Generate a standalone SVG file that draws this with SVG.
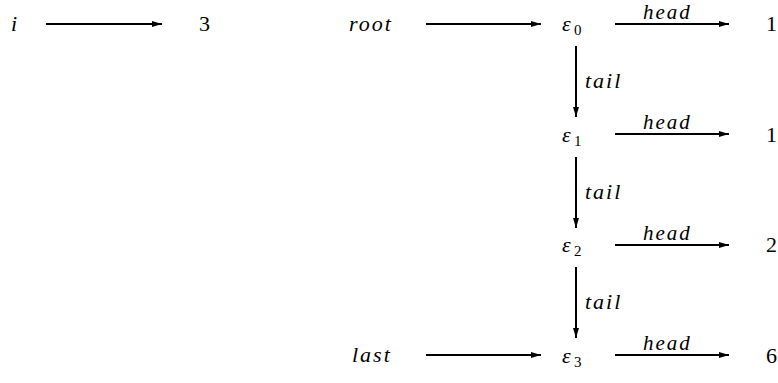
<svg xmlns="http://www.w3.org/2000/svg" width="778" height="383" viewBox="0 0 778 383" font-family="Liberation Serif, Times New Roman, DejaVu Serif, serif">
  <style>
    .v { font-style: italic; font-size: 22px; letter-spacing: 2px; }
    .l { font-style: italic; font-size: 21px; letter-spacing: 2px; }
    .n { font-size: 22px; }
    .s { font-size: 15px; }
    .e { stroke: #000; stroke-width: 2; fill: none; marker-end: url(#ah); }
  </style>
  <defs>
    <marker id="ah" viewBox="0 0 10 6" refX="10" refY="3" markerWidth="10" markerHeight="6" markerUnits="userSpaceOnUse" orient="auto">
      <path d="M0,0 L10,3 L0,6 Z" fill="#000"/>
    </marker>
  </defs>

  <!-- variables -->
  <g id="var-i"><text class="v" x="11" y="31">i</text></g>
  <g id="val-3"><text class="n" x="199" y="31">3</text></g>
  <g id="var-root"><text class="v" x="349" y="31">root</text></g>
  <g id="var-last"><text class="v" x="352" y="362">last</text></g>

  <!-- list cells -->
  <g id="eps0"><text class="v" x="562" y="31">ε</text><text class="s" x="574" y="35">0</text></g>
  <g id="eps1"><text class="v" x="562" y="142">ε</text><text class="s" x="574" y="146">1</text></g>
  <g id="eps2"><text class="v" x="562" y="252">ε</text><text class="s" x="574" y="256">2</text></g>
  <g id="eps3"><text class="v" x="562" y="363">ε</text><text class="s" x="574" y="367">3</text></g>

  <!-- head values -->
  <g id="val-1a"><text class="n" x="766" y="31">1</text></g>
  <g id="val-1b"><text class="n" x="766" y="142">1</text></g>
  <g id="val-2"><text class="n" x="766" y="252">2</text></g>
  <g id="val-6"><text class="n" x="766" y="363">6</text></g>

  <!-- connectors -->
  <g id="connectors">
    <line class="e" x1="46" y1="24" x2="162" y2="24"/>
    <line class="e" x1="426" y1="24" x2="541" y2="24"/>
    <line class="e" x1="426" y1="355" x2="541" y2="355"/>

    <line class="e" x1="615" y1="24" x2="729" y2="24"/>
    <line class="e" x1="615" y1="134" x2="729" y2="134"/>
    <line class="e" x1="615" y1="245" x2="729" y2="245"/>
    <line class="e" x1="615" y1="355" x2="729" y2="355"/>
    <text class="l" x="643" y="19">head</text>
    <text class="l" x="643" y="129">head</text>
    <text class="l" x="643" y="240">head</text>
    <text class="l" x="643" y="350">head</text>

    <line class="e" x1="576" y1="46" x2="576" y2="117"/>
    <line class="e" x1="576" y1="157" x2="576" y2="228"/>
    <line class="e" x1="576" y1="267" x2="576" y2="338"/>
    <text class="v" x="585" y="88">tail</text>
    <text class="v" x="585" y="199">tail</text>
    <text class="v" x="585" y="309">tail</text>
  </g>
</svg>
